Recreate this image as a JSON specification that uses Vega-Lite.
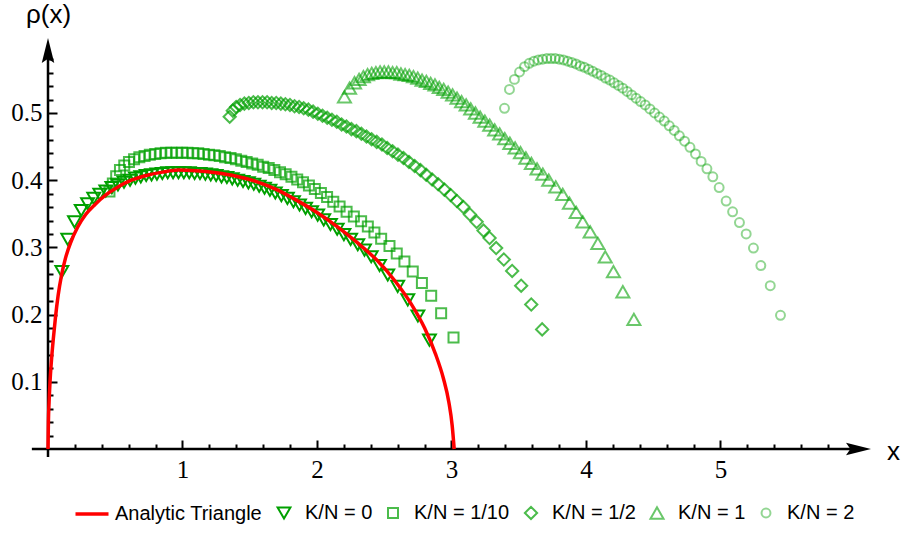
{
  "$schema": "https://vega.github.io/schema/vega-lite/v6.json",
  "width": 823,
  "height": 411,
  "autosize": {"type": "none"},
  "padding": {"left": 48, "top": 38, "right": 33, "bottom": 86},
  "background": "white",
  "config": {"view": {"stroke": null}, "font": "Liberation Sans"},
  "resolve": {"axis": {"x": "independent", "y": "independent"}},
  "datasets": {
    "curve": [
      {"k":"A","x":0,"y":0},{"k":"A","x":0.003,"y":0.04},{"k":"A","x":0.008,"y":0.07},{"k":"A","x":0.015,"y":0.1},
      {"k":"A","x":0.025,"y":0.13},{"k":"A","x":0.04,"y":0.165},{"k":"A","x":0.055,"y":0.195},{"k":"A","x":0.075,"y":0.228},
      {"k":"A","x":0.1,"y":0.258},{"k":"A","x":0.13,"y":0.284},{"k":"A","x":0.17,"y":0.308},{"k":"A","x":0.22,"y":0.33},
      {"k":"A","x":0.28,"y":0.349},{"k":"A","x":0.35,"y":0.364},{"k":"A","x":0.43,"y":0.378},{"k":"A","x":0.52,"y":0.39},
      {"k":"A","x":0.62,"y":0.4},{"k":"A","x":0.73,"y":0.407},{"k":"A","x":0.85,"y":0.412},{"k":"A","x":0.97,"y":0.415},
      {"k":"A","x":1.1,"y":0.414},{"k":"A","x":1.25,"y":0.411},{"k":"A","x":1.4,"y":0.406},{"k":"A","x":1.55,"y":0.398},
      {"k":"A","x":1.7,"y":0.386},{"k":"A","x":1.85,"y":0.37},{"k":"A","x":2.0,"y":0.352},{"k":"A","x":2.15,"y":0.331},
      {"k":"A","x":2.3,"y":0.307},{"k":"A","x":2.45,"y":0.28},{"k":"A","x":2.58,"y":0.25},{"k":"A","x":2.7,"y":0.216},
      {"k":"A","x":2.8,"y":0.18},{"k":"A","x":2.88,"y":0.142},{"k":"A","x":2.94,"y":0.105},{"k":"A","x":2.98,"y":0.07},
      {"k":"A","x":3.005,"y":0.035},{"k":"A","x":3.02,"y":0}
    ],
    "pts": [
      {"k":"0","x":0.103,"y":0.264},{"k":"0","x":0.147,"y":0.312},{"k":"0","x":0.197,"y":0.338},{"k":"0","x":0.247,"y":0.355},
      {"k":"0","x":0.294,"y":0.365},{"k":"0","x":0.34,"y":0.373},{"k":"0","x":0.385,"y":0.379},{"k":"0","x":0.43,"y":0.384},
      {"k":"0","x":0.475,"y":0.389},{"k":"0","x":0.52,"y":0.393},{"k":"0","x":0.565,"y":0.397},{"k":"0","x":0.61,"y":0.4},
      {"k":"0","x":0.65,"y":0.403},{"k":"0","x":0.69,"y":0.405},{"k":"0","x":0.73,"y":0.407},{"k":"0","x":0.77,"y":0.408},
      {"k":"0","x":0.81,"y":0.409},{"k":"0","x":0.85,"y":0.41},{"k":"0","x":0.89,"y":0.411},{"k":"0","x":0.93,"y":0.411},
      {"k":"0","x":0.97,"y":0.411},{"k":"0","x":1.01,"y":0.411},{"k":"0","x":1.05,"y":0.411},{"k":"0","x":1.09,"y":0.41},
      {"k":"0","x":1.13,"y":0.41},{"k":"0","x":1.17,"y":0.409},{"k":"0","x":1.21,"y":0.408},{"k":"0","x":1.25,"y":0.407},
      {"k":"0","x":1.29,"y":0.405},{"k":"0","x":1.33,"y":0.404},{"k":"0","x":1.37,"y":0.402},{"k":"0","x":1.41,"y":0.4},
      {"k":"0","x":1.45,"y":0.398},{"k":"0","x":1.49,"y":0.396},{"k":"0","x":1.53,"y":0.394},{"k":"0","x":1.57,"y":0.391},
      {"k":"0","x":1.61,"y":0.388},{"k":"0","x":1.65,"y":0.385},{"k":"0","x":1.69,"y":0.381},{"k":"0","x":1.735,"y":0.377},
      {"k":"0","x":1.78,"y":0.373},{"k":"0","x":1.825,"y":0.368},{"k":"0","x":1.87,"y":0.363},{"k":"0","x":1.915,"y":0.358},
      {"k":"0","x":1.96,"y":0.353},{"k":"0","x":2.005,"y":0.348},{"k":"0","x":2.05,"y":0.341},{"k":"0","x":2.1,"y":0.334},
      {"k":"0","x":2.15,"y":0.327},{"k":"0","x":2.2,"y":0.319},{"k":"0","x":2.25,"y":0.312},{"k":"0","x":2.303,"y":0.304},
      {"k":"0","x":2.353,"y":0.296},{"k":"0","x":2.403,"y":0.286},{"k":"0","x":2.465,"y":0.273},{"k":"0","x":2.526,"y":0.259},
      {"k":"0","x":2.6,"y":0.242},{"k":"0","x":2.675,"y":0.222},{"k":"0","x":2.75,"y":0.198},{"k":"0","x":2.836,"y":0.162},

      {"k":"1/10","x":0.457,"y":0.383},{"k":"1/10","x":0.482,"y":0.395},{"k":"1/10","x":0.507,"y":0.406},{"k":"1/10","x":0.535,"y":0.415},
      {"k":"1/10","x":0.567,"y":0.422},{"k":"1/10","x":0.602,"y":0.427},{"k":"1/10","x":0.64,"y":0.431},{"k":"1/10","x":0.679,"y":0.434},
      {"k":"1/10","x":0.718,"y":0.436},{"k":"1/10","x":0.757,"y":0.438},{"k":"1/10","x":0.797,"y":0.439},{"k":"1/10","x":0.837,"y":0.44},
      {"k":"1/10","x":0.877,"y":0.441},{"k":"1/10","x":0.917,"y":0.441},{"k":"1/10","x":0.957,"y":0.441},{"k":"1/10","x":0.997,"y":0.441},
      {"k":"1/10","x":1.037,"y":0.441},{"k":"1/10","x":1.077,"y":0.44},{"k":"1/10","x":1.117,"y":0.44},{"k":"1/10","x":1.157,"y":0.439},
      {"k":"1/10","x":1.197,"y":0.438},{"k":"1/10","x":1.237,"y":0.437},{"k":"1/10","x":1.277,"y":0.436},{"k":"1/10","x":1.317,"y":0.434},
      {"k":"1/10","x":1.357,"y":0.433},{"k":"1/10","x":1.397,"y":0.431},{"k":"1/10","x":1.437,"y":0.429},{"k":"1/10","x":1.477,"y":0.427},
      {"k":"1/10","x":1.518,"y":0.425},{"k":"1/10","x":1.559,"y":0.423},{"k":"1/10","x":1.6,"y":0.42},{"k":"1/10","x":1.641,"y":0.418},
      {"k":"1/10","x":1.683,"y":0.415},{"k":"1/10","x":1.725,"y":0.412},{"k":"1/10","x":1.767,"y":0.409},{"k":"1/10","x":1.81,"y":0.405},
      {"k":"1/10","x":1.853,"y":0.401},{"k":"1/10","x":1.896,"y":0.397},{"k":"1/10","x":1.94,"y":0.392},{"k":"1/10","x":1.984,"y":0.387},
      {"k":"1/10","x":2.029,"y":0.381},{"k":"1/10","x":2.075,"y":0.375},{"k":"1/10","x":2.121,"y":0.368},{"k":"1/10","x":2.168,"y":0.361},
      {"k":"1/10","x":2.22,"y":0.353},{"k":"1/10","x":2.274,"y":0.346},{"k":"1/10","x":2.328,"y":0.339},{"k":"1/10","x":2.378,"y":0.331},
      {"k":"1/10","x":2.427,"y":0.322},{"k":"1/10","x":2.477,"y":0.313},{"k":"1/10","x":2.539,"y":0.302},{"k":"1/10","x":2.593,"y":0.291},
      {"k":"1/10","x":2.65,"y":0.279},{"k":"1/10","x":2.712,"y":0.264},{"k":"1/10","x":2.78,"y":0.247},{"k":"1/10","x":2.849,"y":0.228},
      {"k":"1/10","x":2.923,"y":0.202},{"k":"1/10","x":3.015,"y":0.166},

      {"k":"1/2","x":1.351,"y":0.4945},{"k":"1/2","x":1.374,"y":0.5035},{"k":"1/2","x":1.399,"y":0.509},{"k":"1/2","x":1.428,"y":0.512},
      {"k":"1/2","x":1.46,"y":0.514},{"k":"1/2","x":1.493,"y":0.515},{"k":"1/2","x":1.527,"y":0.516},{"k":"1/2","x":1.561,"y":0.516},
      {"k":"1/2","x":1.595,"y":0.516},{"k":"1/2","x":1.629,"y":0.516},{"k":"1/2","x":1.663,"y":0.515},{"k":"1/2","x":1.697,"y":0.515},
      {"k":"1/2","x":1.731,"y":0.514},{"k":"1/2","x":1.765,"y":0.513},{"k":"1/2","x":1.799,"y":0.512},{"k":"1/2","x":1.833,"y":0.51},
      {"k":"1/2","x":1.867,"y":0.509},{"k":"1/2","x":1.901,"y":0.507},{"k":"1/2","x":1.936,"y":0.505},{"k":"1/2","x":1.971,"y":0.502},
      {"k":"1/2","x":2.006,"y":0.499},{"k":"1/2","x":2.041,"y":0.496},{"k":"1/2","x":2.076,"y":0.493},{"k":"1/2","x":2.111,"y":0.49},
      {"k":"1/2","x":2.147,"y":0.487},{"k":"1/2","x":2.183,"y":0.483},{"k":"1/2","x":2.219,"y":0.48},{"k":"1/2","x":2.256,"y":0.476},
      {"k":"1/2","x":2.293,"y":0.473},{"k":"1/2","x":2.33,"y":0.469},{"k":"1/2","x":2.368,"y":0.465},{"k":"1/2","x":2.406,"y":0.461},
      {"k":"1/2","x":2.444,"y":0.457},{"k":"1/2","x":2.483,"y":0.453},{"k":"1/2","x":2.522,"y":0.448},{"k":"1/2","x":2.562,"y":0.443},
      {"k":"1/2","x":2.602,"y":0.438},{"k":"1/2","x":2.643,"y":0.433},{"k":"1/2","x":2.684,"y":0.427},{"k":"1/2","x":2.726,"y":0.421},
      {"k":"1/2","x":2.769,"y":0.415},{"k":"1/2","x":2.812,"y":0.408},{"k":"1/2","x":2.856,"y":0.401},{"k":"1/2","x":2.901,"y":0.394},
      {"k":"1/2","x":2.947,"y":0.386},{"k":"1/2","x":2.993,"y":0.378},{"k":"1/2","x":3.04,"y":0.369},{"k":"1/2","x":3.088,"y":0.36},
      {"k":"1/2","x":3.137,"y":0.349},{"k":"1/2","x":3.187,"y":0.338},{"k":"1/2","x":3.238,"y":0.325},{"k":"1/2","x":3.283,"y":0.314},
      {"k":"1/2","x":3.332,"y":0.299},{"k":"1/2","x":3.389,"y":0.282},{"k":"1/2","x":3.451,"y":0.265},{"k":"1/2","x":3.518,"y":0.243},
      {"k":"1/2","x":3.593,"y":0.215},{"k":"1/2","x":3.674,"y":0.178},

      {"k":"1","x":2.204,"y":0.524},{"k":"1","x":2.242,"y":0.537},{"k":"1","x":2.279,"y":0.545},{"k":"1","x":2.313,"y":0.55},
      {"k":"1","x":2.345,"y":0.554},{"k":"1","x":2.376,"y":0.557},{"k":"1","x":2.407,"y":0.559},{"k":"1","x":2.438,"y":0.56},
      {"k":"1","x":2.469,"y":0.561},{"k":"1","x":2.5,"y":0.561},{"k":"1","x":2.531,"y":0.561},{"k":"1","x":2.562,"y":0.56},
      {"k":"1","x":2.593,"y":0.56},{"k":"1","x":2.624,"y":0.558},{"k":"1","x":2.655,"y":0.557},{"k":"1","x":2.686,"y":0.556},
      {"k":"1","x":2.717,"y":0.554},{"k":"1","x":2.749,"y":0.552},{"k":"1","x":2.781,"y":0.549},{"k":"1","x":2.813,"y":0.547},
      {"k":"1","x":2.845,"y":0.544},{"k":"1","x":2.877,"y":0.542},{"k":"1","x":2.909,"y":0.538},{"k":"1","x":2.942,"y":0.535},
      {"k":"1","x":2.975,"y":0.531},{"k":"1","x":3.008,"y":0.527},{"k":"1","x":3.041,"y":0.522},{"k":"1","x":3.075,"y":0.517},
      {"k":"1","x":3.109,"y":0.512},{"k":"1","x":3.143,"y":0.506},{"k":"1","x":3.178,"y":0.5},{"k":"1","x":3.213,"y":0.494},
      {"k":"1","x":3.248,"y":0.488},{"k":"1","x":3.284,"y":0.482},{"k":"1","x":3.321,"y":0.475},{"k":"1","x":3.358,"y":0.469},
      {"k":"1","x":3.396,"y":0.462},{"k":"1","x":3.434,"y":0.455},{"k":"1","x":3.473,"y":0.448},{"k":"1","x":3.513,"y":0.441},
      {"k":"1","x":3.553,"y":0.433},{"k":"1","x":3.594,"y":0.425},{"k":"1","x":3.636,"y":0.417},{"k":"1","x":3.679,"y":0.409},
      {"k":"1","x":3.723,"y":0.4},{"k":"1","x":3.775,"y":0.39},{"k":"1","x":3.827,"y":0.379},{"k":"1","x":3.877,"y":0.366},
      {"k":"1","x":3.927,"y":0.352},{"k":"1","x":3.976,"y":0.338},{"k":"1","x":4.031,"y":0.323},{"k":"1","x":4.088,"y":0.306},
      {"k":"1","x":4.143,"y":0.286},{"k":"1","x":4.204,"y":0.264},{"k":"1","x":4.274,"y":0.234},{"k":"1","x":4.356,"y":0.193},

      {"k":"2","x":3.394,"y":0.507},{"k":"2","x":3.431,"y":0.535},{"k":"2","x":3.468,"y":0.55},{"k":"2","x":3.506,"y":0.561},
      {"k":"2","x":3.543,"y":0.569},{"k":"2","x":3.578,"y":0.574},{"k":"2","x":3.612,"y":0.577},{"k":"2","x":3.645,"y":0.579},
      {"k":"2","x":3.677,"y":0.58},{"k":"2","x":3.709,"y":0.581},{"k":"2","x":3.74,"y":0.581},{"k":"2","x":3.771,"y":0.581},
      {"k":"2","x":3.802,"y":0.58},{"k":"2","x":3.833,"y":0.579},{"k":"2","x":3.864,"y":0.577},{"k":"2","x":3.895,"y":0.575},
      {"k":"2","x":3.926,"y":0.573},{"k":"2","x":3.957,"y":0.57},{"k":"2","x":3.988,"y":0.568},{"k":"2","x":4.019,"y":0.565},
      {"k":"2","x":4.05,"y":0.562},{"k":"2","x":4.081,"y":0.559},{"k":"2","x":4.113,"y":0.556},{"k":"2","x":4.145,"y":0.552},
      {"k":"2","x":4.177,"y":0.549},{"k":"2","x":4.209,"y":0.545},{"k":"2","x":4.241,"y":0.541},{"k":"2","x":4.273,"y":0.537},
      {"k":"2","x":4.306,"y":0.532},{"k":"2","x":4.339,"y":0.527},{"k":"2","x":4.372,"y":0.522},{"k":"2","x":4.406,"y":0.517},
      {"k":"2","x":4.44,"y":0.512},{"k":"2","x":4.475,"y":0.506},{"k":"2","x":4.51,"y":0.5},{"k":"2","x":4.546,"y":0.494},
      {"k":"2","x":4.582,"y":0.488},{"k":"2","x":4.619,"y":0.481},{"k":"2","x":4.656,"y":0.474},{"k":"2","x":4.694,"y":0.466},
      {"k":"2","x":4.733,"y":0.458},{"k":"2","x":4.773,"y":0.449},{"k":"2","x":4.814,"y":0.439},{"k":"2","x":4.856,"y":0.428},
      {"k":"2","x":4.899,"y":0.417},{"k":"2","x":4.943,"y":0.405},{"k":"2","x":4.99,"y":0.389},{"k":"2","x":5.042,"y":0.369},
      {"k":"2","x":5.09,"y":0.353},{"k":"2","x":5.141,"y":0.337},{"k":"2","x":5.191,"y":0.32},{"k":"2","x":5.245,"y":0.299},
      {"k":"2","x":5.3,"y":0.273},{"k":"2","x":5.37,"y":0.243},{"k":"2","x":5.446,"y":0.199}
    ]
  },
  "layer": [
    {
      "data": {"values": [{}]},
      "mark": {"type": "rule", "color": "black", "strokeWidth": 2.5},
      "encoding": {
        "x": {"datum": -0.12, "type": "quantitative", "scale": {"domain": [0, 6.119], "nice": false, "zero": false},
          "axis": {"orient": "bottom", "title": null, "domain": false, "grid": false, "labels": false,
            "values": [0.2,0.4,0.6,0.8,1.2,1.4,1.6,1.8,2.2,2.4,2.6,2.8,3.2,3.4,3.6,3.8,4.2,4.4,4.6,4.8,5.2,5.4,5.6,5.8],
            "tickColor": "black", "tickWidth": 2, "tickSize": -5}},
        "x2": {"datum": 6.05},
        "y": {"datum": 0, "type": "quantitative", "scale": {"domain": [0, 0.6116], "nice": false, "zero": false},
          "axis": {"orient": "left", "title": null, "domain": false, "grid": false, "labels": false,
            "values": [0.02,0.04,0.06,0.08,0.12,0.14,0.16,0.18,0.22,0.24,0.26,0.28,0.32,0.34,0.36,0.38,0.42,0.44,0.46,0.48,0.52,0.54,0.56,0.58],
            "tickColor": "black", "tickWidth": 2, "tickSize": -5}}
      }
    },
    {
      "data": {"values": [{}]},
      "mark": {"type": "rule", "color": "black", "strokeWidth": 2.5},
      "encoding": {
        "x": {"datum": 0, "type": "quantitative", "scale": {"domain": [0, 6.119], "nice": false, "zero": false}, "axis": null},
        "y": {"datum": -0.012, "type": "quantitative", "scale": {"domain": [0, 0.6116], "nice": false, "zero": false}, "axis": null},
        "y2": {"datum": 0.59}
      }
    },
    {
      "data": {"values": [{}]},
      "mark": {"type": "point", "shape": "M0,0L-2,-0.5L-1.65,0L-2,0.5Z", "size": 625, "filled": true, "color": "black", "opacity": 1, "strokeWidth": 0},
      "encoding": {
        "x": {"datum": 6.119, "type": "quantitative", "scale": {"domain": [0, 6.119], "nice": false, "zero": false}, "axis": null},
        "y": {"datum": 0, "type": "quantitative", "scale": {"domain": [0, 0.6116], "nice": false, "zero": false}, "axis": null}
      }
    },
    {
      "data": {"values": [{}]},
      "mark": {"type": "point", "shape": "M0,0L-0.5,2L0,1.65L0.5,2Z", "size": 625, "filled": true, "color": "black", "opacity": 1, "strokeWidth": 0},
      "encoding": {
        "x": {"datum": 0, "type": "quantitative", "scale": {"domain": [0, 6.119], "nice": false, "zero": false}, "axis": null},
        "y": {"datum": 0.6116, "type": "quantitative", "scale": {"domain": [0, 0.6116], "nice": false, "zero": false}, "axis": null}
      }
    },
    {
      "data": {"name": "pts"},
      "mark": {"type": "point", "filled": false},
      "encoding": {
        "x": {
          "field": "x", "type": "quantitative",
          "scale": {"domain": [0, 6.119], "nice": false, "zero": false},
          "axis": {
            "orient": "bottom",
            "title": "x", "titleFont": "Liberation Sans", "titleFontSize": 26, "titleFontWeight": "normal", "titleColor": "black",
            "titleX": 845, "titleY": 2, "titleAlign": "center", "titleBaseline": "middle", "titleAngle": 0,
            "domain": false, "grid": false,
            "values": [1, 2, 3, 4, 5], "format": "d",
            "tickColor": "black", "tickWidth": 2, "tickSize": -9,
            "labelFont": "Liberation Serif", "labelFontSize": 25, "labelColor": "black", "labelPadding": 17,
            "labelFlush": false, "labelOverlap": false, "labelBound": false
          }
        },
        "y": {
          "field": "y", "type": "quantitative",
          "scale": {"domain": [0, 0.6116], "nice": false, "zero": false},
          "axis": {
            "orient": "left",
            "title": "ρ(x)", "titleFont": "Liberation Sans", "titleFontSize": 26, "titleFontWeight": "normal", "titleColor": "black",
            "titleX": 0, "titleY": -24, "titleAlign": "center", "titleBaseline": "middle", "titleAngle": 0,
            "domain": false, "grid": false,
            "values": [0.1, 0.2, 0.3, 0.4, 0.5], "format": ".1f",
            "tickColor": "black", "tickWidth": 2, "tickSize": -9,
            "labelFont": "Liberation Serif", "labelFontSize": 25, "labelColor": "black", "labelPadding": 15,
            "labelOverlap": false, "labelBound": false, "labelFlush": false
          }
        },
        "color": {
          "field": "k", "type": "nominal",
          "scale": {"domain": ["A","0","1/10","1/2","1","2"], "range": ["#ff0000","#00a000","#00a000","#00a000","#00a000","#00a000"]},
          "legend": {
            "title": null, "orient": "none", "legendX": 32, "legendY": 464, "direction": "horizontal",
            "labelExpr": "datum.label == 'A' ? 'Analytic Triangle' : 'K/N = ' + datum.label",
            "labelFont": "Liberation Sans", "labelFontSize": 20, "labelColor": "black", "labelOffset": 11, "columnPadding": 10
          }
        },
        "shape": {
          "field": "k", "type": "nominal",
          "scale": {"domain": ["A","0","1/10","1/2","1","2"], "range": ["M-1.65,0L1.65,0","triangle-down","square","diamond","triangle-up","circle"]}
        },
        "size": {
          "field": "k", "type": "nominal",
          "scale": {"type": "ordinal", "domain": ["A","0","1/10","1/2","1","2"], "range": [400,165,100,150,170,80]}
        },
        "opacity": {
          "field": "k", "type": "nominal",
          "scale": {"type": "ordinal", "domain": ["A","0","1/10","1/2","1","2"], "range": [1,1,0.7,0.7,0.58,0.42]}
        },
        "strokeWidth": {
          "field": "k", "type": "nominal",
          "scale": {"type": "ordinal", "domain": ["A","0","1/10","1/2","1","2"], "range": [3.5,2,2,2,2,2]}
        }
      }
    },
    {
      "data": {"name": "curve"},
      "mark": {"type": "line", "strokeWidth": 3.5, "interpolate": "monotone"},
      "encoding": {
        "x": {"field": "x", "type": "quantitative", "scale": {"domain": [0, 6.119], "nice": false, "zero": false}, "axis": null},
        "y": {"field": "y", "type": "quantitative", "scale": {"domain": [0, 0.6116], "nice": false, "zero": false}, "axis": null},
        "color": {"field": "k", "type": "nominal", "scale": {"domain": ["A","0","1/10","1/2","1","2"], "range": ["#ff0000","#00a000","#00a000","#00a000","#00a000","#00a000"]}, "legend": null}
      }
    }
  ]
}
